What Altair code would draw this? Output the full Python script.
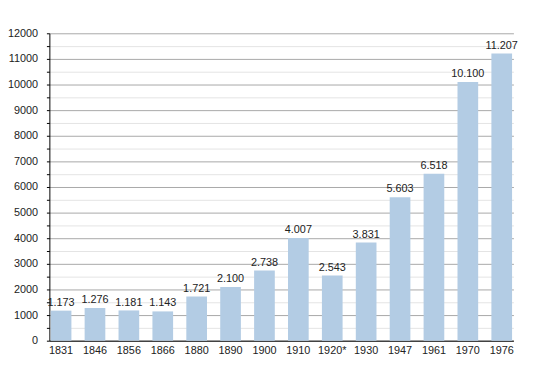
import altair as alt
import pandas as pd

years = ["1831", "1846", "1856", "1866", "1880", "1890", "1900", "1910", "1920*", "1930", "1947", "1961", "1970", "1976"]
population = [1173, 1276, 1181, 1143, 1721, 2100, 2738, 4007, 2543, 3831, 5603, 6518, 10100, 11207]
labels = ["1.173", "1.276", "1.181", "1.143", "1.721", "2.100", "2.738", "4.007", "2.543", "3.831", "5.603", "6.518", "10.100", "11.207"]
tick_values = [500 * i for i in range(25)]

df = pd.DataFrame({"year": years, "pop": population, "label": labels})

FONT = "Liberation Sans"

y_scale = alt.Scale(domain=[0, 12000], nice=False)
x_scale = alt.Scale(paddingInner=0.39, paddingOuter=0.04)

x_axis = alt.Axis(labelAngle=0, ticks=False, domainColor="#000000", labelPadding=4,
                  labelFont=FONT, labelFontSize=11, labelColor="#222222", grid=False)
y_axis = alt.Axis(values=tick_values,
                  labelExpr="(datum.value % 1000 == 0) ? datum.label : ''",
                  labelOverlap=False,
                  tickSize=3, tickColor="#000000", domainColor="#000000",
                  labelPadding=9, labelFont=FONT, labelFontSize=11,
                  labelColor="#222222",
                  gridColor={"condition": {"test": "datum.value % 1000 == 0", "value": "#a8a8a8"}, "value": "#e4e4e4"},
                  grid=True, format="d")

enc_x = alt.X("year:N", sort=years, title=None, scale=x_scale, axis=x_axis)
enc_y = alt.Y("pop:Q", scale=y_scale, title=None, axis=y_axis)

bars = alt.Chart(df).mark_bar(color="#b3cce4").encode(x=enc_x, y=enc_y)

text = alt.Chart(df).mark_text(dy=-8, font=FONT, fontSize=11, color="#222222").encode(
    x=enc_x, y=enc_y, text="label:N"
)

chart = alt.layer(bars, text).properties(
    width=471, height=312,
    autosize=alt.AutoSizeParams(type="none"),
    padding={"left": 42, "top": 23, "right": 29, "bottom": 22},
    background="#ffffff"
).configure_view(stroke=None)

chart.save("out.html", embed_options={"renderer": "svg", "actions": False})
